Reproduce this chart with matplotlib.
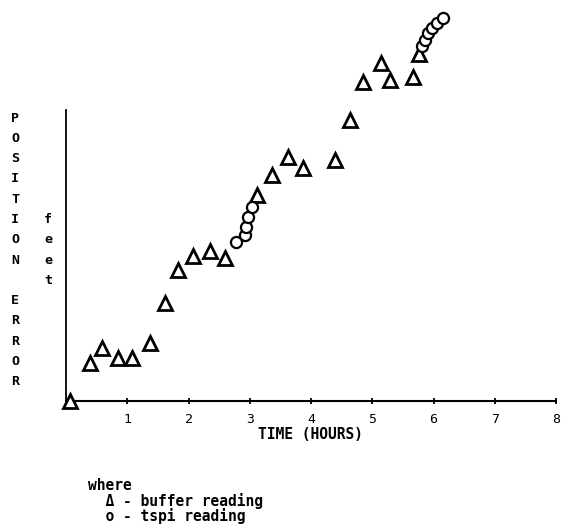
import matplotlib
matplotlib.use('Agg')
import matplotlib.pyplot as plt

# buffer readings (triangles): time in hours, position error (feet, arbitrary scale)
buffer_time = [0.07, 0.39, 0.59, 0.85, 1.08, 1.37, 1.61, 1.83, 2.07, 2.35, 2.59,
               3.12, 3.36, 3.62, 3.87, 4.39, 4.63, 4.85, 5.15, 5.29, 5.66, 5.76]
buffer_err = [0.0, 3.8, 5.3, 4.3, 4.3, 5.8, 9.8, 13.1, 14.5, 15.0, 14.3,
              20.6, 22.6, 24.4, 23.3, 24.1, 28.1, 31.9, 33.8, 32.1, 32.4, 34.7]

# tspi readings (circles)
tspi_time = [2.77, 2.92, 2.94, 2.97, 3.03, 5.82, 5.86, 5.91, 5.97, 6.05, 6.15]
tspi_err = [15.9, 16.6, 17.4, 18.4, 19.4, 35.5, 36.1, 36.8, 37.3, 37.8, 38.3]

xticks = [1, 2, 3, 4, 5, 6, 7, 8]
ylabel = "POSITION ERROR"
unit = "feet"
legend_lines = ["where", "  \u0394 - buffer reading", "  o - tspi reading"]

mono = 'DejaVu Sans Mono'

fig = plt.figure(figsize=(5.74, 5.32), dpi=100)
ax = fig.add_axes([66 / 574, 131 / 532, 490 / 574, 390 / 532])
ax.set_xlim(0, 8)
ax.set_ylim(0, 39)

ax.plot(buffer_time, buffer_err, linestyle='none', marker='^', ms=10,
        mfc='white', mec='black', mew=2.0, clip_on=False, zorder=3)
ax.plot(tspi_time, tspi_err, linestyle='none', marker='o', ms=8,
        mfc='white', mec='black', mew=1.6, clip_on=False, zorder=4)

for s in ['top', 'right']:
    ax.spines[s].set_visible(False)
ax.spines['left'].set_bounds(0, 29.1)
ax.spines['left'].set_linewidth(1.3)
ax.spines['bottom'].set_linewidth(1.5)

ax.set_xticks(xticks)
ax.set_xticklabels([str(t) for t in xticks], family=mono, fontsize=9.5)
ax.tick_params(axis='x', direction='inout', length=5, width=1.3, pad=6)
ax.set_yticks([])
ax.set_xlabel("TIME (HOURS)", family=mono, fontsize=10.5, fontweight='bold', labelpad=1)

# stacked vertical label, one letter per row (blank row between words)
row_top = 118
row_step = 20.3
for i, ch in enumerate(ylabel):
    if ch != ' ':
        fig.text(15 / 574, 1 - (row_top + i * row_step) / 532, ch, family=mono,
                 fontsize=9.5, fontweight='bold', ha='center', va='center')
for i, ch in enumerate(unit):
    fig.text(48 / 574, 1 - (row_top + (5 + i) * row_step) / 532, ch, family=mono,
             fontsize=9.5, fontweight='bold', ha='center', va='center')

for i, line in enumerate(legend_lines):
    fig.text(88 / 574, 1 - (486 + i * 15) / 532, line, family=mono, fontsize=10.5,
             fontweight='bold', ha='left', va='center')

fig.savefig('out.png', dpi=100)
